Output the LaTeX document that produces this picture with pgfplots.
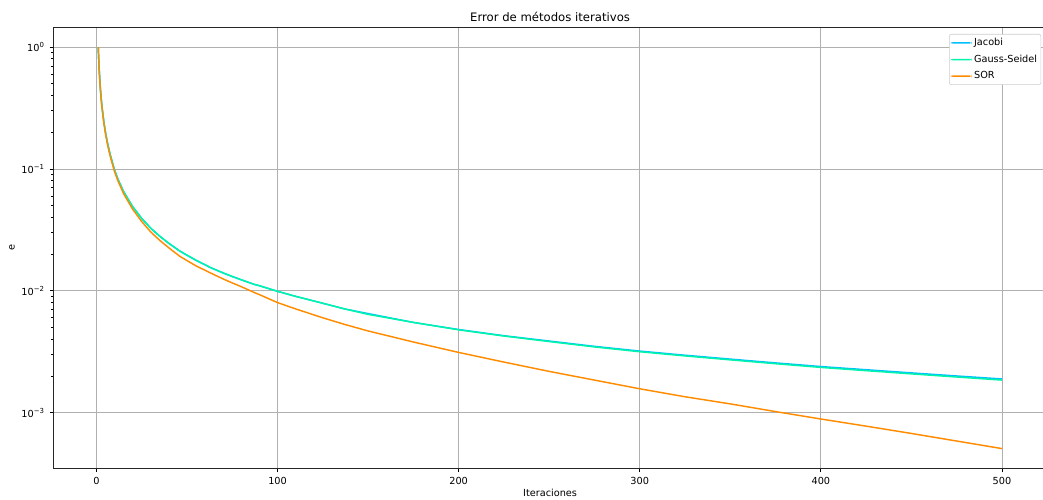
\documentclass[border=0pt]{standalone}
\usepackage{fontspec}
\setmainfont{DejaVu Sans}
\usepackage{pgfplots}
\pgfplotsset{compat=1.18}
\usetikzlibrary{calc}
\definecolor{cJac}{RGB}{0,191,255}
\definecolor{cGS}{RGB}{0,245,170}
\definecolor{cSOR}{RGB}{255,140,0}
\definecolor{gridc}{RGB}{176,176,176}
\definecolor{legc}{RGB}{204,204,204}
\begin{document}
\begin{tikzpicture}
\begin{axis}[
  scale only axis,
  width=716.1pt, height=318.2pt,
  ymode=log,
  xmin=-23.95, xmax=524.95,
  ymin=3.47e-4, ymax=1.462,
  xtick={0,100,200,300,400,500},
  ytick={1e-3,1e-2,1e-1,1},
  yticklabels={10\textsuperscript{−3},10\textsuperscript{−2},10\textsuperscript{−1},10\textsuperscript{0}},
  /pgf/number format/assume math mode=true,
  tick label style={font=\fontsize{7}{8.4}\selectfont, text=black},
  xticklabel style={yshift=-0.5pt},
  tick align=outside,
  tick pos=left,
  major tick length=2.45pt,
  minor tick length=1.4pt,
  every tick/.style={black, line width=0.56pt},
  axis line style={black!85, line width=0.56pt},
  xmajorgrids, ymajorgrids,
  major grid style={gridc, line width=0.56pt},
  minor grid style={draw=none},
  title={Error de métodos iterativos},
  title style={font=\fontsize{8.4}{10}\selectfont, at={(axis description cs:0.5,1.0226)}, anchor=center, yshift=-6pt},
  xlabel={Iteraciones},
  ylabel={e},
  label style={font=\fontsize{7}{8.4}\selectfont},
  xlabel style={at={(axis description cs:0.5,-0.0543)}, anchor=center, yshift=0pt},
  ylabel style={at={(axis description cs:-0.0412,0.5)}, anchor=center, yshift=0pt},
  legend cell align=left,
  legend style={at={(axis description cs:0.994,0.984)}, anchor=north east,
    font=\fontsize{7}{8.4}\selectfont, draw=legc, rounded corners=1.5pt,
    fill=white, inner sep=1pt, row sep=1.6pt,
    nodes={inner sep=1.8pt}},
  legend image code/.code={\fill[#1] (0pt,-0.55pt) rectangle (15pt,0.55pt);},
]
\addplot[cJac, line width=1.05pt, forget plot] coordinates {
(1,1.0) (1.5,0.67) (2,0.50) (2.5,0.40) (3,0.333) (4,0.250) (5,0.200) (6,0.167) (7,0.143) (8,0.125) (10,0.098)
(12,0.0815) (15,0.0652) (20,0.0490) (25,0.0392) (30,0.0326) (35,0.0280) (40,0.0245) (46,0.0212) (50,0.0196)
(55,0.0178) (63,0.0155) (70,0.0140) (75,0.0131) (80,0.0123) (87,0.0113) (90,0.0110) (100,0.0099) (110,0.0090)
(125,0.0079) (137,0.0071) (150,0.0065) (175,0.0055) (200,0.00481)
(225,0.00428) (250,0.00387) (275,0.00350) (300,0.00320) (325,0.00296) (350,0.00275) (375,0.00256)
(400,0.00239) (425,0.00225) (450,0.00212) (475,0.00200) (500,0.00189)
};
\addplot[cGS, line width=1.05pt, forget plot] coordinates {
(1,1.0) (1.5,0.67) (2,0.50) (2.5,0.40) (3,0.333) (4,0.250) (5,0.200) (6,0.167) (7,0.143) (8,0.125) (10,0.098)
(12,0.0815) (15,0.0652) (20,0.0490) (25,0.0392) (30,0.0326) (35,0.0280) (40,0.0245) (46,0.0212) (50,0.0196)
(55,0.0178) (63,0.0155) (70,0.0140) (75,0.0131) (80,0.0123) (87,0.0113) (90,0.0110) (100,0.0099) (110,0.0090)
(125,0.0079) (137,0.0071) (150,0.0064) (175,0.0055) (200,0.00478)
(225,0.00425) (250,0.00383) (275,0.00346) (300,0.00316) (325,0.00292) (350,0.00271) (375,0.00252)
(400,0.00235) (425,0.00221) (450,0.00208) (475,0.00196) (500,0.00185)
};
\addplot[cSOR, line width=1.05pt, forget plot] coordinates {
(1,1.0) (1.5,0.66) (2,0.49) (2.5,0.393) (3,0.326) (4,0.244) (5,0.195) (6,0.162) (7,0.139) (8,0.121) (10,0.095)
(12,0.0790) (15,0.0627) (20,0.0467) (25,0.0370) (30,0.0304) (35,0.0259) (40,0.0225) (46,0.0192) (50,0.0177)
(55,0.0160) (63,0.0140) (70,0.0125) (75,0.0116) (80,0.0108) (87,0.0097) (90,0.0093) (100,0.0080) (110,0.0071)
(125,0.0060) (137,0.0053) (150,0.00468) (175,0.00380) (200,0.00312)
(225,0.00260) (250,0.00218) (275,0.00185) (300,0.00157) (325,0.00135) (350,0.00118) (375,0.00102)
(400,0.000887) (425,0.000775) (450,0.000675) (475,0.000585) (500,0.000507)
};
\addlegendimage{fill=cJac, draw=none}
\addlegendentry{Jacobi}
\addlegendimage{fill=cGS, draw=none}
\addlegendentry{Gauss-Seidel}
\addlegendimage{fill=cSOR, draw=none}
\addlegendentry{SOR}
\end{axis}
\pgfresetboundingbox
\path[use as bounding box] ($(current axis.south west)+(-38.2pt,-22.3pt)$) rectangle ($(current axis.north east)+(-3pt,19.4pt)$);
\end{tikzpicture}
\end{document}
